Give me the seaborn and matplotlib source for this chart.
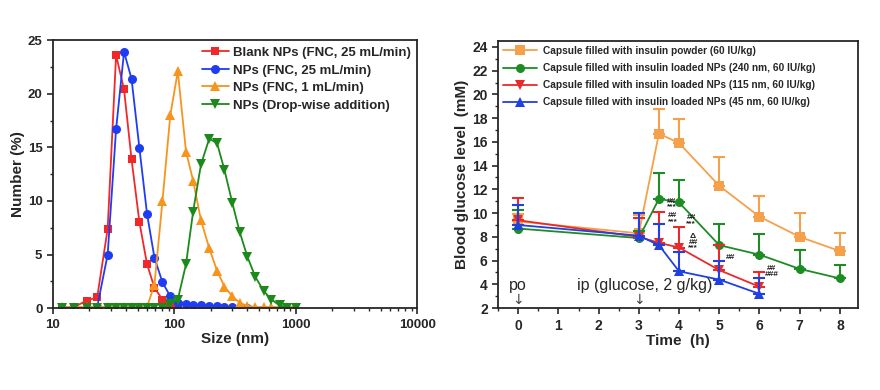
import matplotlib
matplotlib.use("Agg")
import matplotlib.pyplot as plt
import matplotlib.ticker as mticker
import numpy as np
import pandas as pd
import seaborn as sns

# ---- left panel: size distribution (DLS) ----
size_nm = [12.0, 15.0, 19.0, 23.2, 28.3, 33.2, 38.6, 44.5, 51.7, 59.7, 68.7, 80.0,
           92.8, 107, 125, 143, 166, 194, 225, 259, 301, 346, 400, 466, 545, 632,
           736, 855, 1000]
blank_fnc25 = [0.1, 0.1, 0.7, 1.0, 7.4, 23.6, 20.4, 13.9, 8.0, 4.1, 1.9, 0.8,
               0.3, 0.1] + [None] * 15
nps_fnc25 = [0.0, 0.0, 0.0, 0.1, 5.0, 16.7, 23.9, 21.4, 14.9, 8.8, 4.7, 2.4,
             1.1, 0.5, 0.35, 0.3, 0.25, 0.2, 0.15, 0.1, 0.1, 0.05, 0.05] + [None] * 6
nps_fnc1 = [0.1, 0.1, 0.1, 0.1, 0.1, 0.1, 0.1, 0.1, 0.1, 0.1, 2.2, 10.0,
            18.0, 22.1, 14.6, 11.9, 8.2, 5.6, 3.5, 2.0, 1.1, 0.5, 0.2, 0.1,
            0.1, 0.1, 0.1, 0.1, 0.1]
nps_drop = [0.0, 0.0, 0.0, 0.0, 0.0, 0.0, 0.0, 0.0, 0.0, 0.0, 0.0, 0.0,
            0.4, 0.8, 4.1, 9.0, 13.4, 15.8, 15.4, 12.9, 9.8, 7.1, 4.8, 2.9,
            1.6, 0.8, 0.25, 0.05, 0.0]
size_labels = ["Blank NPs (FNC, 25 mL/min)", "NPs (FNC, 25 mL/min)",
               "NPs (FNC, 1 mL/min)", "NPs (Drop-wise addition)"]

# ---- right panel: blood glucose ----
time_h = [0, 3, 3.5, 4, 5, 6, 7, 8]
powder_mean = [9.3, 8.3, 16.7, 15.9, 12.3, 9.7, 8.0, 6.8]
powder_up = [9.9, 9.8, 18.8, 17.9, 14.7, 11.4, 10.0, 8.3]
np240_mean = [8.7, 7.9, 11.2, 10.9, 7.3, 6.5, 5.3, 4.5]
np240_up = [10.3, 8.5, 13.4, 12.8, 9.1, 8.2, 6.9, 5.6]
np115_mean = [9.4, 8.0, 7.5, 7.1, 5.2, 3.8, None, None]
np115_up = [11.3, 9.6, 10.1, 8.8, 7.3, 5.0, None, None]
np45_mean = [9.0, 8.1, 7.3, 5.1, 4.4, 3.2, None, None]
np45_up = [10.7, 10.0, 9.1, 6.7, 6.0, 4.5, None, None]
glucose_labels = ["Capsule filled with insulin powder (60 IU/kg)",
                  "Capsule filled with insulin loaded NPs (240 nm, 60 IU/kg)",
                  "Capsule filled with insulin loaded NPs (115 nm, 60 IU/kg)",
                  "Capsule filled with insulin loaded NPs (45 nm, 60 IU/kg)"]

sig_text = ["##\n***", "##\n***", "##\n***", "\u0394\n##\n***", "##", "##\n###"]
sig_x = [3.82, 3.84, 4.3, 4.35, 5.27, 6.3]
sig_y = [10.75, 9.55, 9.35, 7.55, 6.25, 5.1]

sns.set_style("ticks")
plt.rcParams["font.family"] = ["Liberation Sans", "DejaVu Sans"]
plt.rcParams["font.weight"] = "bold"
plt.rcParams["axes.linewidth"] = 1.3
plt.rcParams["xtick.direction"] = "out"
plt.rcParams["ytick.direction"] = "out"

fig = plt.figure(figsize=(8.8, 3.9), dpi=100)
ax1 = fig.add_axes([0.060, 0.210, 0.414, 0.687])
ax2 = fig.add_axes([0.566, 0.210, 0.409, 0.685])

# left
df_size = pd.DataFrame({"size": size_nm, "a": blank_fnc25, "b": nps_fnc25,
                        "c": nps_fnc1, "d": nps_drop}).astype(float)
ax1.set_xscale("log")
left_style = [("a", "#f0282a", "s", 5.5), ("b", "#1f3cf5", "o", 6.5),
              ("c", "#f7941e", "^", 6.5), ("d", "#1b8a1b", "v", 6.5)]
for (col, c, m, ms), lab in zip(left_style, size_labels):
    sns.lineplot(data=df_size, x="size", y=col, ax=ax1, color=c, marker=m,
                 markersize=ms, markeredgewidth=0, linewidth=1.3,
                 estimator=None, label=lab)
ax1.set_xlim(10, 10000)
ax1.set_ylim(0, 25)
ax1.yaxis.set_major_locator(mticker.MultipleLocator(5))
ax1.yaxis.set_minor_locator(mticker.MultipleLocator(2.5))
ax1.xaxis.set_major_formatter(mticker.FuncFormatter(lambda v, p: f"{v:g}"))
ax1.set_xlabel("Size (nm)", fontsize=11, fontweight="bold", labelpad=1)
ax1.set_ylabel("Number (%)", fontsize=11, fontweight="bold", labelpad=2)
ax1.tick_params(labelsize=9.5, length=4, width=1.2)
ax1.tick_params(which="minor", length=2.5, width=1)
ax1.legend(loc="upper right", frameon=False, prop={"size": 9.5, "weight": "bold"},
           handlelength=2.0, handletextpad=0.3, labelspacing=0.4,
           borderaxespad=0.1)

# right
right_series = [(powder_mean, powder_up, "#f5a04a", "s"),
                (np240_mean, np240_up, "#1e8c24", "o"),
                (np115_mean, np115_up, "#ea2a2a", "v"),
                (np45_mean, np45_up, "#2040e0", "^")]
for (mean, up, c, m), lab in zip(right_series, glucose_labels):
    d = pd.DataFrame({"t": time_h, "y": mean, "u": up}).astype(float).dropna()
    ax2.errorbar(d["t"], d["y"], yerr=[np.zeros(len(d)), d["u"] - d["y"]],
                 fmt="none", ecolor=c, elinewidth=1.5, capsize=4.5, capthick=1.5)
    sns.lineplot(data=d, x="t", y="y", ax=ax2, color=c, marker=m, markersize=6.5,
                 markeredgewidth=0, linewidth=1.3, estimator=None, label=lab)
for tx, tt, ty in zip(sig_x, sig_text, sig_y):
    ax2.text(tx, ty, tt, fontsize=6, ha="center", va="center",
             linespacing=0.75, color="#222222")
ax2.text(0, 3.9, "po", fontsize=11.5, fontweight="normal", ha="center", va="center")
ax2.text(3.15, 3.9, "ip (glucose, 2 g/kg)", fontsize=11.5, fontweight="normal",
         ha="center", va="center")
for xa in [0, 3]:
    ax2.text(xa, 2.65, "\u2193", fontsize=10, fontweight="normal", ha="center",
             va="center", color="#444444", family=["DejaVu Sans"])
ax2.set_xlim(-0.5, 8.45)
ax2.set_ylim(2, 24.5)
ax2.xaxis.set_major_locator(mticker.MultipleLocator(1))
ax2.xaxis.set_minor_locator(mticker.MultipleLocator(0.5))
ax2.yaxis.set_major_locator(mticker.MultipleLocator(2))
ax2.yaxis.set_minor_locator(mticker.MultipleLocator(1))
ax2.set_xlabel("Time  (h)", fontsize=11, fontweight="bold", labelpad=1)
ax2.set_ylabel("Blood glucose level  (mM)", fontsize=11, fontweight="bold", labelpad=2)
ax2.tick_params(labelsize=10, length=4, width=1.2)
ax2.tick_params(which="minor", length=2.5, width=1)
ax2.legend(loc="upper left", frameon=False, prop={"size": 7.3, "weight": "bold"},
           handlelength=3.3, handletextpad=0.6, labelspacing=0.7,
           borderaxespad=0.3, borderpad=0.2)

fig.savefig("out.png", dpi=100)
